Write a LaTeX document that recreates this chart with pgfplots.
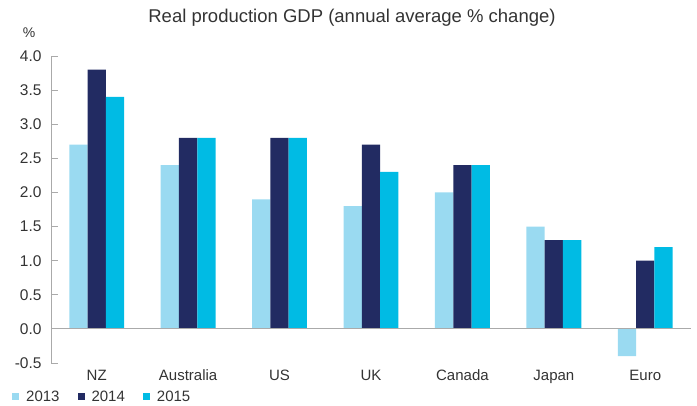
\documentclass[border=0pt]{standalone}
\usepackage{pgfplots}
\pgfplotsset{compat=1.18}
\usepackage{fontspec}
\setmainfont{Liberation Sans}

\definecolor{c13}{HTML}{9ADAF1}
\definecolor{c14}{HTML}{222B62}
\definecolor{c15}{HTML}{00BBE4}
\definecolor{txt}{HTML}{333333}
\definecolor{axgray}{HTML}{AAAAAA}

\begin{document}
\begin{tikzpicture}
\path[use as bounding box] (0,0) rectangle (697pt,405pt);
\node[font=\fontsize{18.5}{21}\selectfont, text=txt] at (352pt,387pt) {Real production GDP (annual average \% change)};
\node[font=\fontsize{14}{16}\selectfont, text=txt] at (29pt,372pt) {\%};
\begin{axis}[
    at={(51pt,42pt)}, anchor=south west,
    scale only axis,
    width=640pt, height=307pt,
    ybar=0pt,
    bar width=0.2,
    xmin=-0.5, xmax=6.5,
    ymin=-0.5, ymax=4.0,
    xtick={0,1,2,3,4,5,6},
    xticklabels={NZ,Australia,US,UK,Canada,Japan,Euro},
    ytick={-0.5,0,0.5,1,1.5,2,2.5,3,3.5,4},
    yticklabels={-0.5,0.0,0.5,1.0,1.5,2.0,2.5,3.0,3.5,4.0},
    separate axis lines,
    axis x line*=bottom,
    axis y line*=left,
    x axis line style={draw=none},
    y axis line style={axgray, line width=0.8pt},
    major x tick style={draw=none},
    major y tick style={axgray, line width=0.8pt},
    tick align=inside,
    major tick length=6.5pt,
    tick label style={font=\fontsize{15.5}{18}\selectfont, text=txt},
    yticklabel style={xshift=-6pt},
    xticklabel style={font=\fontsize{15}{18}\selectfont, text height=11pt, text depth=3pt, yshift=-3pt},
    /pgf/number format/assume math mode=true,
    legend style={
        at={(axis description cs:0,0)}, anchor=west,
        xshift=-42pt, yshift=-34pt,
        draw=none, fill=none,
        legend columns=3,
        font=\fontsize{15}{17}\selectfont,
        text=txt,
        /tikz/every odd column/.append style={column sep=5pt},
        /tikz/every even column/.append style={column sep=16pt}
    },
    legend image code/.code={\fill[#1, draw=none] (0pt,-3.5pt) rectangle (7pt,3.5pt);},
]
\addplot[fill=c13, draw=none] coordinates {(0,2.7) (1,2.4) (2,1.9) (3,1.8) (4,2.0) (5,1.5) (6,-0.4)};
\addplot[fill=c14, draw=none] coordinates {(0,3.8) (1,2.8) (2,2.8) (3,2.7) (4,2.4) (5,1.3) (6,1.0)};
\addplot[fill=c15, draw=none] coordinates {(0,3.4) (1,2.8) (2,2.8) (3,2.3) (4,2.4) (5,1.3) (6,1.2)};
\draw[axgray, line width=0.8pt] (axis cs:-0.5,0) -- (axis cs:6.5,0);
\legend{2013,2014,2015}
\end{axis}
\end{tikzpicture}
\end{document}
